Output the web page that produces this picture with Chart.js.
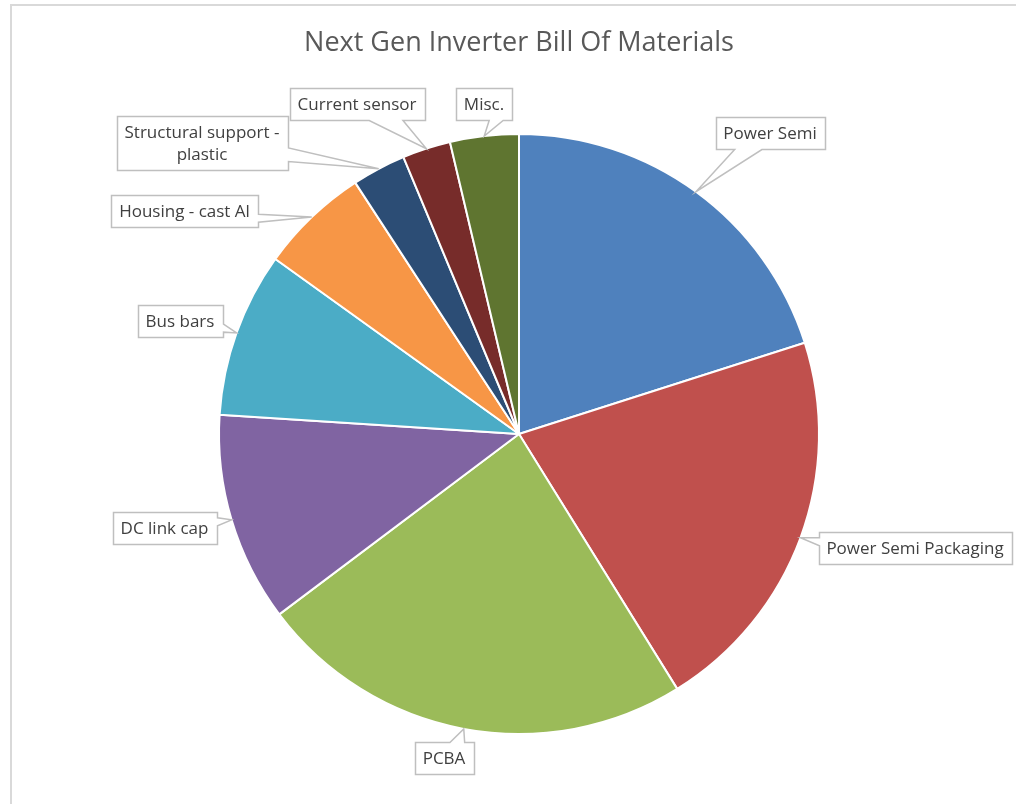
<!DOCTYPE html>
<html>
<head>
<meta charset="utf-8">
<title>Next Gen Inverter Bill Of Materials</title>
<script src="https://cdn.jsdelivr.net/npm/chart.js@4/dist/chart.umd.min.js"></script>
<style>
  html, body { margin: 0; padding: 0; background: #ffffff; }
  canvas { display: block; }
</style>
</head>
<body>
<canvas id="bom" width="1016" height="804"></canvas>
<script>
// Cost share of each component (percent of total bill of materials)
const categories = [
  'Power Semi',
  'Power Semi Packaging',
  'PCBA',
  'DC link cap',
  'Bus bars',
  'Housing - cast Al',
  'Structural support - plastic',
  'Current sensor',
  'Misc.'
];
const shares = [20.1, 21.1, 23.6, 11.3, 8.9, 5.9, 2.9, 2.6, 3.7];

// Callout text, one entry per line
const labelLines = [
  ['Power Semi'],
  ['Power Semi Packaging'],
  ['PCBA'],
  ['DC link cap'],
  ['Bus bars'],
  ['Housing - cast Al'],
  ['Structural support -', 'plastic'],
  ['Current sensor'],
  ['Misc.']
];

// Slice colours
const sliceColors = [
  '#4F81BD', '#C0504D', '#9BBB59', '#8064A2', '#4BACC6',
  '#F79646', '#2C4D75', '#772C2A', '#5F7530'
];

// Callout box centres, as offsets from the pie centre
const calloutOffsets = [
  [251, -301.5],
  [396, 114],
  [-75, 323.5],
  [-354.5, 93.5],
  [-339, -113.5],
  [-334.5, -223],
  [-317, -291],
  [-162, -330.5],
  [-35, -330.5]
];

const LABEL_FONT = '17px "Open Sans", sans-serif';
const LABEL_LINE_H = 22;
const PAD_X = 8;
const PAD_Y = 5;

// Outer frame of the chart area
const framePlugin = {
  id: 'frame',
  beforeDraw(chart) {
    const ctx = chart.ctx;
    ctx.save();
    ctx.fillStyle = '#ffffff';
    ctx.fillRect(0, 0, chart.width, chart.height);
    ctx.fillStyle = '#d9d9d9';
    ctx.fillRect(10, 4, 2, chart.height - 4);
    ctx.fillRect(10, 4, chart.width - 10, 2);
    ctx.restore();
  }
};

// Title text centred above the pie
const titlePlugin = {
  id: 'bomTitle',
  afterDraw(chart) {
    const ctx = chart.ctx;
    ctx.save();
    ctx.font = '27px "Open Sans", sans-serif';
    ctx.fillStyle = '#595959';
    ctx.textAlign = 'center';
    ctx.textBaseline = 'alphabetic';
    ctx.fillText('Next Gen Inverter Bill Of Materials', 519, 51);
    ctx.restore();
  }
};

// Wedge-shaped callout boxes pointing at the middle of each slice's rim
const calloutPlugin = {
  id: 'callouts',
  afterDatasetsDraw(chart) {
    const ctx = chart.ctx;
    const meta = chart.getDatasetMeta(0);
    ctx.save();
    ctx.font = LABEL_FONT;
    meta.data.forEach((arc, i) => {
      const mid = (arc.startAngle + arc.endAngle) / 2;
      const tipX = arc.x + Math.cos(mid) * arc.outerRadius;
      const tipY = arc.y + Math.sin(mid) * arc.outerRadius;
      const lines = labelLines[i];
      const tw = Math.max(...lines.map(s => ctx.measureText(s).width));
      const w = Math.round(tw + 2 * PAD_X);
      const h = lines.length * LABEL_LINE_H + 2 * PAD_Y;
      const cx = arc.x + calloutOffsets[i][0];
      const cy = arc.y + calloutOffsets[i][1];
      const l = Math.round(cx - w / 2) + 0.5, t = Math.round(cy - h / 2) + 0.5;
      const r = l + w, b = t + h;

      const dxPos = tipX - cx, dyPos = tipY - cy;
      const dq = dxPos * h / w;
      const x1 = l + w * (dxPos > 0 ? 7 : 2) / 12;
      const x2 = l + w * (dxPos > 0 ? 10 : 5) / 12;
      const y1 = t + h * (dyPos > 0 ? 7 : 2) / 12;
      const y2 = t + h * (dyPos > 0 ? 10 : 5) / 12;
      let side;
      if (Math.abs(dq) > Math.abs(dyPos)) side = dxPos > 0 ? 'right' : 'left';
      else side = dyPos > 0 ? 'bottom' : 'top';

      ctx.beginPath();
      ctx.moveTo(l, t);
      if (side === 'top') { ctx.lineTo(x1, t); ctx.lineTo(tipX, tipY); ctx.lineTo(x2, t); }
      ctx.lineTo(r, t);
      if (side === 'right') { ctx.lineTo(r, y1); ctx.lineTo(tipX, tipY); ctx.lineTo(r, y2); }
      ctx.lineTo(r, b);
      if (side === 'bottom') { ctx.lineTo(x2, b); ctx.lineTo(tipX, tipY); ctx.lineTo(x1, b); }
      ctx.lineTo(l, b);
      if (side === 'left') { ctx.lineTo(l, y2); ctx.lineTo(tipX, tipY); ctx.lineTo(l, y1); }
      ctx.closePath();
      ctx.fillStyle = '#ffffff';
      ctx.fill();
      ctx.lineWidth = 1.5;
      ctx.strokeStyle = '#bfbfbf';
      ctx.lineJoin = 'miter';
      ctx.stroke();

      ctx.fillStyle = '#404040';
      ctx.textAlign = 'center';
      ctx.textBaseline = 'middle';
      lines.forEach((s, k) => {
        ctx.fillText(s, cx, t + PAD_Y + LABEL_LINE_H * (k + 0.5) + 1);
      });
    });
    ctx.restore();
  }
};

new Chart(document.getElementById('bom'), {
  type: 'pie',
  data: {
    labels: categories,
    datasets: [{
      data: shares,
      backgroundColor: sliceColors,
      borderColor: '#ffffff',
      borderWidth: 2,
      hoverOffset: 0
    }]
  },
  options: {
    responsive: false,
    animation: false,
    events: [],
    layout: { padding: { top: 133, bottom: 69, left: 218, right: 196 } },
    plugins: {
      legend: { display: false },
      title: { display: false },
      tooltip: { enabled: false }
    }
  },
  plugins: [framePlugin, titlePlugin, calloutPlugin]
});
</script>
</body>
</html>
